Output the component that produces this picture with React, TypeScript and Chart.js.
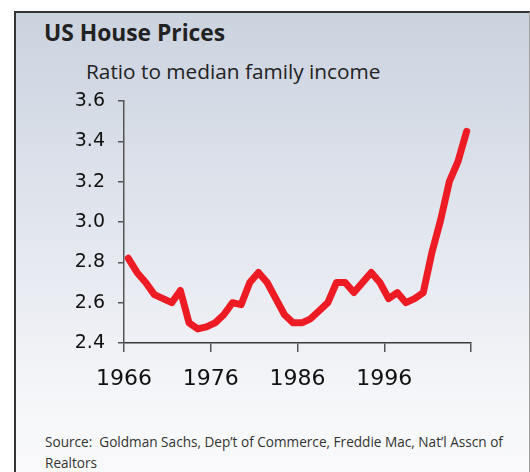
import React, { useEffect, useRef } from 'react';
import { Chart, registerables } from 'chart.js';

Chart.register(...registerables);

const years = [
  1966, 1967, 1968, 1969, 1970, 1971, 1972, 1973, 1974, 1975,
  1976, 1977, 1978, 1979, 1980, 1981, 1982, 1983, 1984, 1985,
  1986, 1987, 1988, 1989, 1990, 1991, 1992, 1993, 1994, 1995,
  1996, 1997, 1998, 1999, 2000, 2001, 2002, 2003, 2004, 2005,
];
const ratio = [
  2.82, 2.75, 2.70, 2.64, 2.62, 2.60, 2.66, 2.50, 2.47, 2.48,
  2.50, 2.54, 2.60, 2.59, 2.70, 2.75, 2.70, 2.62, 2.54, 2.50,
  2.50, 2.52, 2.56, 2.60, 2.70, 2.70, 2.65, 2.70, 2.75, 2.70,
  2.62, 2.65, 2.60, 2.62, 2.65, 2.85, 3.01, 3.20, 3.30, 3.45,
];
const xTickValues = [1966, 1976, 1986, 1996, 2006];
const xTickLabels = ['1966', '1976', '1986', '1996', ''];
const yMin = 2.4;
const yMax = 3.6;
const yStep = 0.2;

const titleText = 'US House Prices';
const subtitleText = 'Ratio to median family income';
const sourceLine1 = 'Source:\u00a0 Goldman Sachs, Dep\u2019t of Commerce, Freddie Mac, Nat\u2019l Asscn of';
const sourceLine2 = 'Realtors';

export default function App() {
  const ref = useRef<HTMLCanvasElement>(null);

  useEffect(() => {
    if (!ref.current) return;
    const chart = new Chart(ref.current, {
      type: 'line',
      data: {
        datasets: [
          {
            data: years.map((y, i) => ({ x: y + 0.5, y: ratio[i] })),
            borderColor: '#ed1c24',
            borderWidth: 7,
            borderCapStyle: 'round',
            borderJoinStyle: 'round',
            pointRadius: 0,
            tension: 0,
            fill: false,
          },
        ],
      },
      options: {
        responsive: false,
        animation: false,
        layout: { padding: { left: 60, right: 59, top: 101, bottom: 0 } },
        plugins: { legend: { display: false }, tooltip: { enabled: false } },
        scales: {
          x: {
            type: 'linear',
            min: 1966,
            max: 2006,
            afterBuildTicks: (s: any) => {
              s.ticks = xTickValues.map((v) => ({ value: v }));
            },
            afterFit: (s: any) => {
              s.height = 57;
            },
            border: { color: '#3a3a3a', width: 1.5 },
            grid: { drawOnChartArea: false, tickLength: 9, color: '#555', lineWidth: 1.5 },
            ticks: {
              autoSkip: false,
              maxRotation: 0,
              padding: 14,
              color: '#111',
              font: { family: 'DejaVu Sans', size: 22 },
              callback: (v: any) => {
                const i = xTickValues.indexOf(Number(v));
                return i >= 0 ? xTickLabels[i] : '';
              },
            },
          },
          y: {
            min: yMin,
            max: yMax,
            afterFit: (s: any) => {
              s.width = 64;
            },
            border: { color: '#555', width: 1.5 },
            grid: { drawOnChartArea: false, tickLength: 6, color: '#555', lineWidth: 1.5 },
            ticks: {
              stepSize: yStep,
              padding: 13,
              color: '#111',
              font: { family: 'DejaVu Sans', size: 19 },
              callback: (v: any) => Number(v).toFixed(1),
            },
          },
        },
      },
    });
    return () => chart.destroy();
  }, []);

  return (
    <div
      style={{
        position: 'absolute',
        left: 0,
        top: 0,
        width: 530,
        height: 472,
        overflow: 'hidden',
        background: '#ffffff',
      }}
    >
      <div
        style={{
          position: 'absolute',
          left: 14,
          top: 11,
          width: 513,
          height: 480,
          borderLeft: '2px solid #333',
          borderTop: '2px solid #333',
          borderRight: '1px solid #a0a0a0',
          background: 'linear-gradient(to bottom, #cbd3df 0%, #e2e6ee 45%, #f7f8fa 85%, #fafafb 100%)',
        }}
      />
      <div
        style={{
          position: 'absolute',
          left: 44,
          top: 22,
          fontFamily: '"Open Sans", sans-serif',
          fontWeight: 700,
          fontSize: 22.8,
          lineHeight: '22.8px',
          color: '#222',
          whiteSpace: 'nowrap',
        }}
      >
        {titleText}
      </div>
      <div
        style={{
          position: 'absolute',
          left: 86,
          top: 61.4,
          fontFamily: '"Open Sans", sans-serif',
          fontSize: 20.8,
          lineHeight: '20.8px',
          color: '#222',
          whiteSpace: 'nowrap',
        }}
      >
        {subtitleText}
      </div>
      <canvas
        ref={ref}
        width={530}
        height={400}
        style={{ position: 'absolute', left: 0, top: 0, width: 530, height: 400 }}
      />
      <div
        style={{
          position: 'absolute',
          left: 45,
          top: 430.6,
          fontFamily: '"Open Sans", sans-serif',
          fontSize: 13.6,
          lineHeight: '21.7px',
          color: '#333',
          whiteSpace: 'nowrap',
        }}
      >
        {sourceLine1}
        <br />
        {sourceLine2}
      </div>
    </div>
  );
}
